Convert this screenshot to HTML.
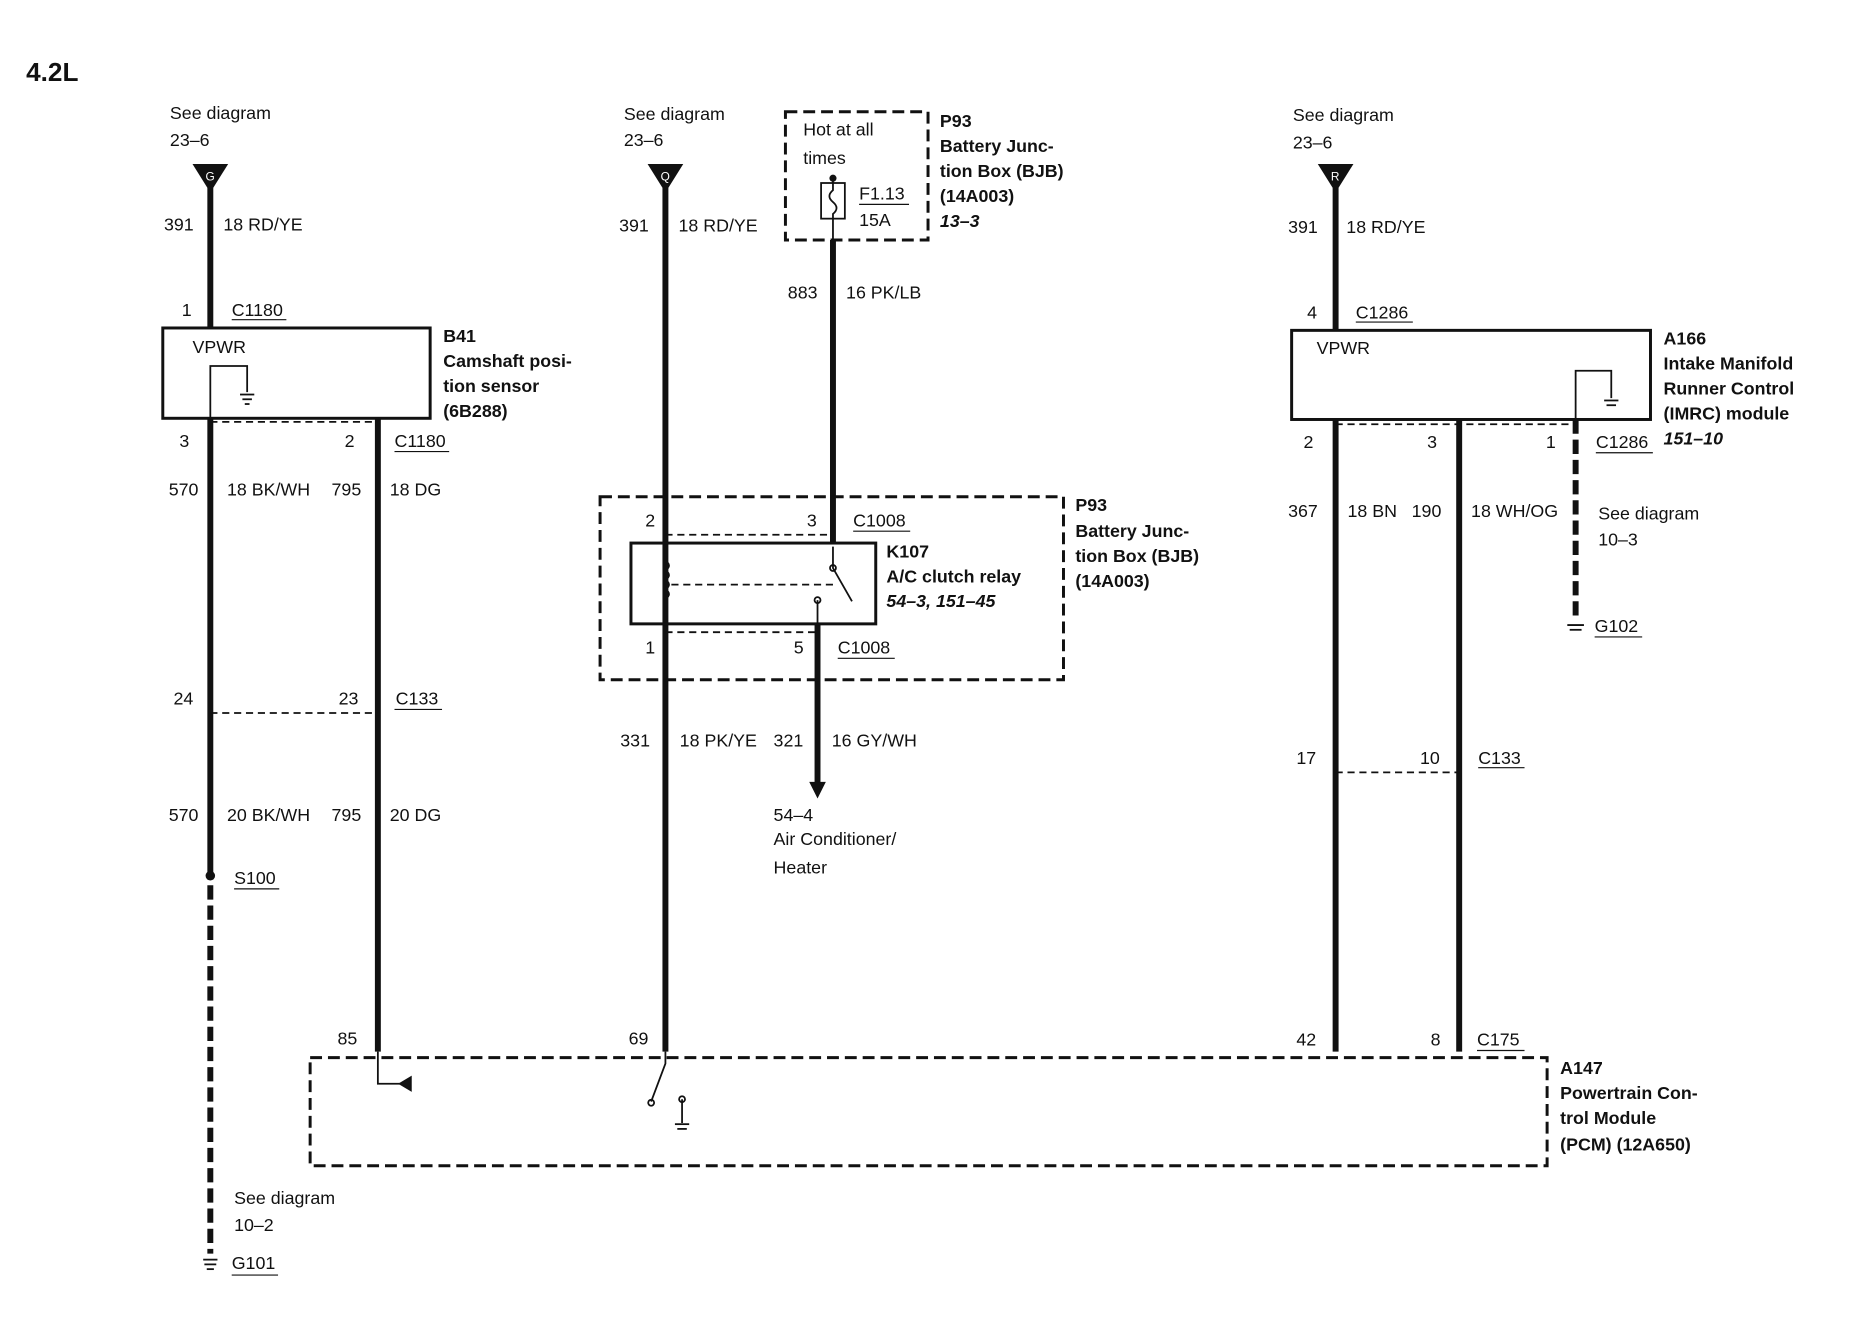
<!DOCTYPE html>
<html><head><meta charset="utf-8"><style>
html,body{margin:0;padding:0;background:#fff;}
svg{display:block;}
text{font-family:"Liberation Sans",sans-serif;font-size:15px;fill:#111;}
.b{font-weight:bold;}
.i{font-style:italic;font-weight:bold;}
</style></head><body>
<svg width="1862" height="1344" viewBox="0 0 1567 1131" preserveAspectRatio="none" xmlns="http://www.w3.org/2000/svg">
<g stroke="#111" fill="none">
<g stroke-width="5">
<line x1="177" y1="158" x2="177" y2="276"/>
<line x1="177" y1="352" x2="177" y2="736"/>
<line x1="318" y1="352" x2="318" y2="885"/>
<line x1="560" y1="158" x2="560" y2="885"/>
<line x1="701" y1="202" x2="701" y2="457"/>
<line x1="688" y1="525" x2="688" y2="660"/>
<line x1="1124" y1="158" x2="1124" y2="278"/>
<line x1="1124" y1="353" x2="1124" y2="885"/>
<line x1="1228" y1="353" x2="1228" y2="885"/>
<line x1="177" y1="745" x2="177" y2="1055" stroke-dasharray="12,5"/>
<line x1="1326" y1="353" x2="1326" y2="518" stroke-dasharray="12,5"/>
</g>
<g fill="#111" stroke="none">
<polygon points="162,138 192,138 177,162"/>
<polygon points="545,138 575,138 560,162"/>
<polygon points="1109,138 1139,138 1124,162"/>
<polygon points="681,658 695,658 688,672"/>
<circle cx="177" cy="737" r="4"/>
<circle cx="701" cy="150" r="3"/>
</g>
<g stroke-width="2.5">
<rect x="137" y="276" width="225" height="76"/>
<rect x="1087" y="278" width="302" height="75"/>
<rect x="531" y="457" width="206" height="68"/>
</g>
<g stroke-width="2.5" stroke-dasharray="10,5">
<rect x="661" y="94" width="120" height="108"/>
<rect x="505" y="418" width="390" height="154"/>
<rect x="261" y="890" width="1041" height="91"/>
</g>
<g stroke-width="1.5" stroke-dasharray="6,4">
<line x1="177" y1="355" x2="318" y2="355"/>
<line x1="177" y1="600" x2="318" y2="600"/>
<line x1="1124" y1="650" x2="1228" y2="650"/>
<line x1="560" y1="450" x2="701" y2="450"/>
<line x1="560" y1="532" x2="688" y2="532"/>
<line x1="1124" y1="357" x2="1326" y2="357"/>
<line x1="565" y1="492" x2="705" y2="492"/>
</g>
<rect x="691" y="154" width="20" height="30" stroke-width="1.5"/>
<path d="M701 150 v10 q-6 5 0 10 q6 5 0 10 v22" stroke-width="1.5"/>
<path d="M177 352 V308 H208 V330" stroke-width="1.5"/>
<path d="M1326 353 V312 H1356 V335" stroke-width="1.5"/>
<g stroke-width="1.5">
<line x1="202" y1="332" x2="214" y2="332"/><line x1="204" y1="336" x2="212" y2="336"/><line x1="206" y1="340" x2="210" y2="340"/>
<line x1="1350" y1="337" x2="1362" y2="337"/><line x1="1352" y1="341" x2="1360" y2="341"/>
<line x1="1319" y1="526" x2="1333" y2="526"/><line x1="1321" y1="530" x2="1331" y2="530"/>
<line x1="171" y1="1060" x2="183" y2="1060"/><line x1="172" y1="1064" x2="182" y2="1064"/><line x1="174" y1="1068" x2="180" y2="1068"/>
<line x1="568" y1="946" x2="580" y2="946"/><line x1="570" y1="950" x2="578" y2="950"/>
</g>
<path d="M560 460 v12 q6 4 0 8 q6 4 0 8 q6 4 0 8 q6 4 0 8 v20" stroke-width="1.5"/>
<path d="M701 460 v18 l16 28 M688 505 v20" stroke-width="1.5"/>
<circle cx="701" cy="478" r="2.5" stroke-width="1.5"/>
<circle cx="688" cy="505" r="2.5" stroke-width="1.5"/>
<path d="M318 885 v27 h28" stroke-width="1.5"/>
<polygon points="336,912 346,906 346,918" fill="#111"/>
<path d="M560 885 v10 l-12 32 M574 925 v20" stroke-width="1.5"/>
<circle cx="548" cy="928" r="2.5" stroke-width="1.5"/>
<circle cx="574" cy="925" r="2.5" stroke-width="1.5"/>
<g stroke-width="1">
<line x1="195" y1="269" x2="241" y2="269"/><line x1="332" y1="380" x2="378" y2="380"/>
<line x1="332" y1="597" x2="372" y2="597"/><line x1="197" y1="748" x2="235" y2="748"/>
<line x1="195" y1="1073" x2="234" y2="1073"/><line x1="718" y1="447" x2="766" y2="447"/>
<line x1="705" y1="554" x2="753" y2="554"/><line x1="723" y1="172" x2="765" y2="172"/>
<line x1="1141" y1="271" x2="1189" y2="271"/><line x1="1343" y1="381" x2="1391" y2="381"/>
<line x1="1342" y1="536" x2="1382" y2="536"/><line x1="1244" y1="646" x2="1283" y2="646"/>
<line x1="1243" y1="884" x2="1283" y2="884"/>
</g>
</g>
<text x="22" y="68" class="b" style="font-size:22px">4.2L</text>
<text x="143" y="100">See diagram</text><text x="143" y="123">23–6</text>
<text x="525" y="101">See diagram</text><text x="525" y="123">23–6</text>
<text x="1088" y="102">See diagram</text><text x="1088" y="125">23–6</text>
<text x="173" y="152" style="font-size:10px;fill:#fff">G</text>
<text x="556" y="152" style="font-size:10px;fill:#fff">Q</text>
<text x="1120" y="152" style="font-size:10px;fill:#fff">R</text>
<text x="138" y="194">391</text><text x="188" y="194">18 RD/YE</text>
<text x="521" y="195">391</text><text x="571" y="195">18 RD/YE</text>
<text x="1084" y="196">391</text><text x="1133" y="196">18 RD/YE</text>
<text x="676" y="114">Hot at all</text><text x="676" y="138">times</text>
<text x="723" y="168">F1.13</text><text x="723" y="190">15A</text>
<text x="791" y="107" class="b">P93</text><text x="791" y="128" class="b">Battery Junc-</text>
<text x="791" y="149" class="b">tion Box (BJB)</text><text x="791" y="170" class="b">(14A003)</text>
<text x="791" y="191" class="i">13–3</text>
<text x="663" y="251">883</text><text x="712" y="251">16 PK/LB</text>
<text x="153" y="266">1</text><text x="195" y="266">C1180</text>
<text x="162" y="297">VPWR</text>
<text x="373" y="288" class="b">B41</text><text x="373" y="309" class="b">Camshaft posi-</text>
<text x="373" y="330" class="b">tion sensor</text><text x="373" y="351" class="b">(6B288)</text>
<text x="151" y="376">3</text><text x="290" y="376">2</text><text x="332" y="376">C1180</text>
<text x="142" y="417">570</text><text x="191" y="417">18 BK/WH</text>
<text x="279" y="417">795</text><text x="328" y="417">18 DG</text>
<text x="146" y="593">24</text><text x="285" y="593">23</text><text x="333" y="593">C133</text>
<text x="142" y="691">570</text><text x="191" y="691">20 BK/WH</text>
<text x="279" y="691">795</text><text x="328" y="691">20 DG</text>
<text x="197" y="744">S100</text>
<text x="197" y="1013">See diagram</text><text x="197" y="1036">10–2</text>
<text x="195" y="1068">G101</text>
<text x="543" y="443">2</text><text x="679" y="443">3</text><text x="718" y="443">C1008</text>
<text x="746" y="469" class="b">K107</text><text x="746" y="490" class="b">A/C clutch relay</text>
<text x="746" y="511" class="i">54–3, 151–45</text>
<text x="905" y="430" class="b">P93</text><text x="905" y="452" class="b">Battery Junc-</text>
<text x="905" y="473" class="b">tion Box (BJB)</text><text x="905" y="494" class="b">(14A003)</text>
<text x="543" y="550">1</text><text x="668" y="550">5</text><text x="705" y="550">C1008</text>
<text x="522" y="628">331</text><text x="572" y="628">18 PK/YE</text>
<text x="651" y="628">321</text><text x="700" y="628">16 GY/WH</text>
<text x="651" y="691">54–4</text><text x="651" y="711">Air Conditioner/</text><text x="651" y="735">Heater</text>
<text x="1100" y="268">4</text><text x="1141" y="268">C1286</text>
<text x="1108" y="298">VPWR</text>
<text x="1400" y="290" class="b">A166</text><text x="1400" y="311" class="b">Intake Manifold</text>
<text x="1400" y="332" class="b">Runner Control</text><text x="1400" y="353" class="b">(IMRC) module</text>
<text x="1400" y="374" class="i">151–10</text>
<text x="1097" y="377">2</text><text x="1201" y="377">3</text><text x="1301" y="377">1</text><text x="1343" y="377">C1286</text>
<text x="1084" y="435">367</text><text x="1134" y="435">18 BN</text>
<text x="1188" y="435">190</text><text x="1238" y="435">18 WH/OG</text>
<text x="1345" y="437">See diagram</text><text x="1345" y="459">10–3</text>
<text x="1342" y="532">G102</text>
<text x="1091" y="643">17</text><text x="1195" y="643">10</text><text x="1244" y="643">C133</text>
<text x="284" y="879">85</text><text x="529" y="879">69</text>
<text x="1091" y="880">42</text><text x="1204" y="880">8</text><text x="1243" y="880">C175</text>
<text x="1313" y="904" class="b">A147</text><text x="1313" y="925" class="b">Powertrain Con-</text>
<text x="1313" y="946" class="b">trol Module</text><text x="1313" y="968" class="b">(PCM) (12A650)</text>
</svg>
</body></html>
